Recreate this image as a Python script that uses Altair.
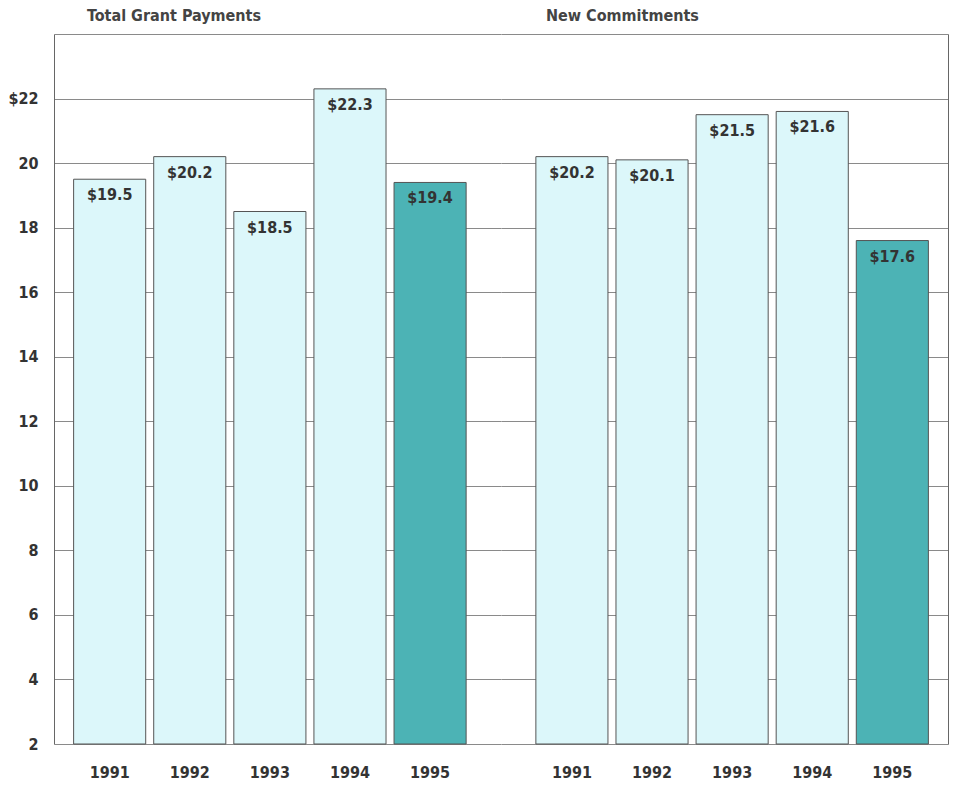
import altair as alt
import pandas as pd

years = ["1991", "1992", "1993", "1994", "1995"]
grant_payments = [19.5, 20.2, 18.5, 22.3, 19.4]
new_commitments = [20.2, 20.1, 21.5, 21.6, 17.6]
highlight_year = "1995"
panel_titles = ["Total Grant Payments", "New Commitments"]
y_ticks = list(range(2, 25, 2))

FONT = "Liberation Sans Narrow, DejaVu Sans Condensed, Arial Narrow, sans-serif"
LIGHT = "#dcf7fa"
TEAL = "#4cb3b5"
TXT = "#333333"


def panel(values, title, left, dx, align):
    df = pd.DataFrame({
        "year": years,
        "value": values,
        "label": [f"${v:.1f}" for v in values],
    })
    base = alt.Chart(df)
    x = alt.X(
        "year:N", title=None, sort=years,
        scale=alt.Scale(paddingInner=0.1, paddingOuter=0.34, align=align),
        axis=alt.Axis(labelAngle=0, domain=False, ticks=False, labelPadding=20,
                      labelFont=FONT, labelFontSize=16, labelFontWeight="bold",
                      labelColor=TXT),
    )
    common = dict(values=y_ticks, ticks=False, domain=True, domainColor="#666",
                  domainWidth=1, grid=True, gridColor="#8a8a8a", gridWidth=1)
    if left:
        yaxis = alt.Axis(
            labelExpr="datum.value == 22 ? '$22' : datum.value == 24 ? '' : datum.label",
            labelPadding=16, labelFont=FONT, labelFontSize=16, labelFontWeight="bold",
            labelColor=TXT, **common)
    else:
        yaxis = alt.Axis(orient="right", labels=False, **common)
    y = alt.Y("value:Q", title=None,
              scale=alt.Scale(domain=[2, 24], nice=False, zero=False), axis=yaxis)
    bars = base.mark_bar(stroke="#555555", strokeWidth=1).encode(
        x=x, y=y, y2=alt.datum(2),
        color=alt.condition(alt.datum.year == highlight_year,
                            alt.value(TEAL), alt.value(LIGHT)),
    )
    text = base.mark_text(baseline="top", dy=8, font=FONT, fontSize=16,
                          fontWeight="bold", color=TXT).encode(
        x=x, y=y, text="label:N")
    return alt.layer(bars, text).properties(
        width=447, height=710,
        title=alt.TitleParams(title, anchor="start", frame="group", dx=dx, offset=10,
                              font=FONT, fontSize=16, fontWeight="bold", color="#444"),
    )


chart = alt.hconcat(
    panel(grant_payments, panel_titles[0], True, 33, 0.36),
    panel(new_commitments, panel_titles[1], False, 45, 0.64),
    spacing=0,
).properties(
    padding={"left": 7, "top": 8, "right": 10, "bottom": 5},
    background="white",
).configure_view(stroke=None)

chart.save("out.html", embed_options={"renderer": "svg", "actions": False})
